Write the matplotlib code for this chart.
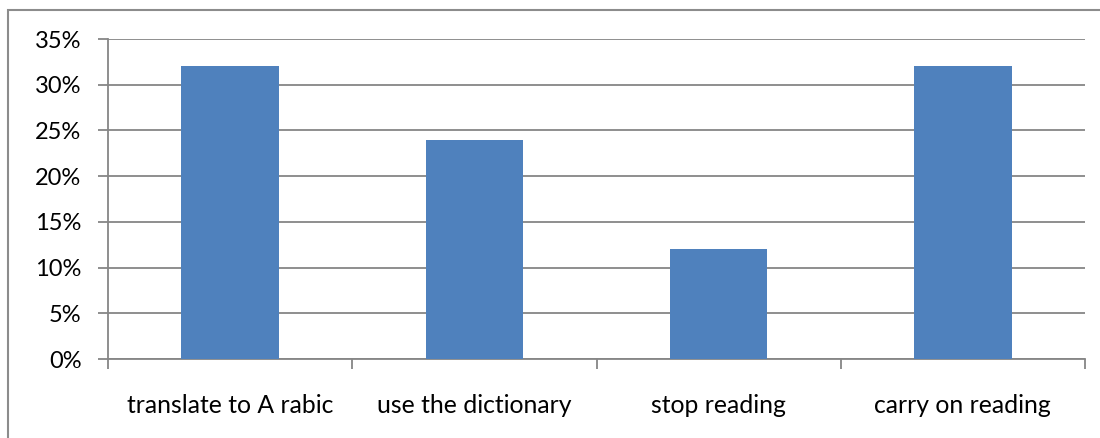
import matplotlib
matplotlib.use("Agg")
import matplotlib.pyplot as plt
from matplotlib.patches import Rectangle
from matplotlib.ticker import FuncFormatter

categories = ["translate to A rabic", "use the dictionary", "stop reading", "carry on reading"]
values = [32, 24, 12, 32]
y_ticks = [0, 5, 10, 15, 20, 25, 30, 35]

bar_color = "#4F81BD"
grid_color = "#868686"
plt.rcParams["font.family"] = ["Lato", "DejaVu Sans"]

fig = plt.figure(figsize=(11, 4.38), dpi=100)
fig.patches.append(Rectangle((7.5 / 1100, -0.05), 1.2, 1 - 10.5 / 438 + 0.05,
                             transform=fig.transFigure, fill=False,
                             edgecolor="#8C8C8C", linewidth=1.5, zorder=0))

ax = fig.add_axes([108 / 1100, (438 - 359) / 438, (1085 - 108) / 1100, (359 - 39) / 438])
x = [i + 0.5 for i in range(len(categories))]
ax.bar(x, values, width=0.4, color=bar_color, zorder=3)

ax.set_xlim(0, len(categories))
ax.set_ylim(0, 35)
ax.set_yticks(y_ticks)
ax.yaxis.set_major_formatter(FuncFormatter(lambda v, p: f"{int(v)}%"))
ax.grid(axis="y", color=grid_color, linewidth=1.3, zorder=0)

ax.set_xticks(range(len(categories) + 1))
ax.set_xticklabels([])
ax.set_xticks(x, minor=True)
ax.set_xticklabels(categories, minor=True)
ax.tick_params(axis="x", which="major", length=7, width=1.3, color=grid_color, direction="out")
ax.tick_params(axis="x", which="minor", length=0, pad=25, labelsize=17.8)
ax.tick_params(axis="y", length=7, width=1.3, color=grid_color, pad=12, labelsize=17)

for s in ("top", "right"):
    ax.spines[s].set_visible(False)
for s in ("left", "bottom"):
    ax.spines[s].set_color(grid_color)
    ax.spines[s].set_linewidth(1.3)

fig.savefig("out.png", dpi=100)
